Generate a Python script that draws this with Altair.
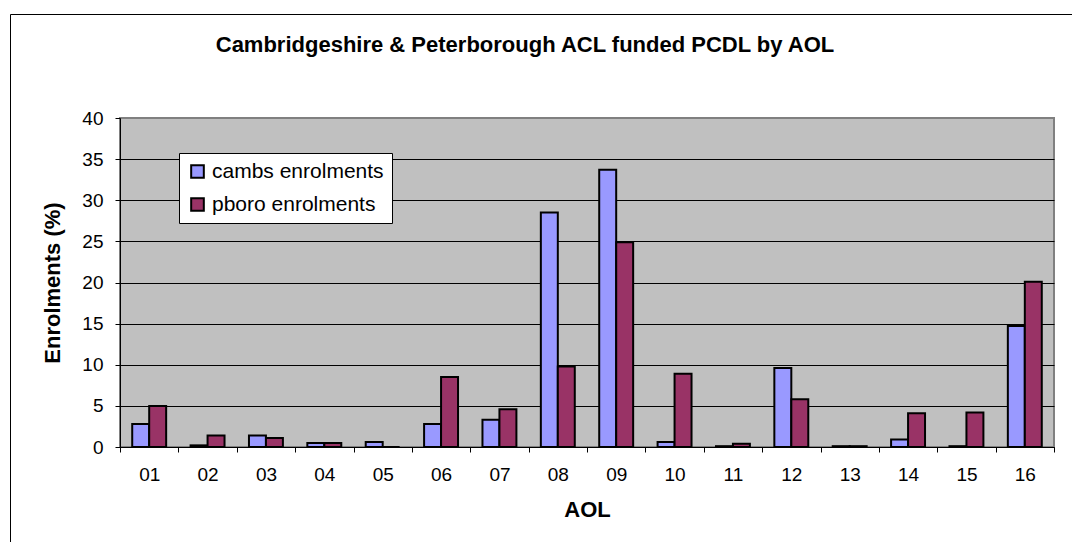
import altair as alt
import pandas as pd

categories = ["01", "02", "03", "04", "05", "06", "07", "08",
              "09", "10", "11", "12", "13", "14", "15", "16"]
cambs = [2.8, 0.2, 1.4, 0.5, 0.6, 2.8, 3.3, 28.5, 33.7, 0.6, 0.1, 9.6, 0.1, 0.9, 0.1, 14.7]
pboro = [5.0, 1.4, 1.1, 0.5, 0.0, 8.5, 4.6, 9.8, 24.9, 8.9, 0.4, 5.8, 0.1, 4.1, 4.2, 20.1]
series = ["cambs enrolments", "pboro enrolments"]
colors = ["#9999FF", "#993366"]
y_ticks = [0, 5, 10, 15, 20, 25, 30, 35, 40]

rows = []
for c, a, b in zip(categories, cambs, pboro):
    rows.append({"AOL": c, "series": series[0], "value": a})
    rows.append({"AOL": c, "series": series[1], "value": b})
df = pd.DataFrame(rows)

FONT = "Liberation Sans"
W, H = 934, 329

bars = alt.Chart(df).mark_bar(stroke="black", strokeWidth=2).encode(
    x=alt.X("AOL:N", sort=categories,
            scale=alt.Scale(paddingInner=0, paddingOuter=0),
            axis=alt.Axis(title="AOL", labelAngle=0, tickBand="extent",
                          tickSize=5, tickColor="black", domainColor="black",
                          labelFontSize=19, labelPadding=13, labelColor="black",
                          titleFontSize=22, titleFontWeight="bold", titlePadding=15,
                          titleColor="black", labelFont=FONT, titleFont=FONT, grid=False)),
    xOffset=alt.XOffset("series:N", sort=series,
                        scale=alt.Scale(paddingInner=0, paddingOuter=0.72)),
    y=alt.Y("value:Q", scale=alt.Scale(domain=[0, 40], nice=False),
            axis=alt.Axis(title="Enrolments (%)", values=y_ticks, tickSize=5,
                          tickColor="black", domainColor="black",
                          labelFontSize=19, labelPadding=12, labelColor="black",
                          titleFontSize=22, titleFontWeight="bold", titlePadding=17,
                          titleColor="black", labelFont=FONT, titleFont=FONT,
                          grid=True,
                          gridColor={"condition": {"test": "datum.value === 40", "value": "#808080"}, "value": "black"},
                          gridWidth=1)),
    color=alt.Color("series:N", sort=series,
                    scale=alt.Scale(domain=series, range=colors),
                    legend=alt.Legend(title=None, orient="none", legendX=59, legendY=35,
                                      fillColor="white", strokeColor="black",
                                      padding=8, rowPadding=11,
                                      symbolType="square", symbolSize=160,
                                      symbolStrokeColor="black", symbolStrokeWidth=2,
                                      labelFontSize=21, labelFont=FONT, labelColor="black",
                                      labelOffset=4, labelLimit=400)),
)

frame_df = pd.DataFrame({"k": [0]})
frame = alt.Chart(frame_df).mark_rect(fill=None, stroke="black", strokeWidth=1).encode(
    x=alt.value(-109.5), x2=alt.value(W + 100),
    y=alt.value(-103.5), y2=alt.value(H + 200),
)

chart = alt.layer(frame, bars).properties(
    width=W, height=H,
    title=alt.TitleParams(
        "Cambridgeshire & Peterborough ACL funded PCDL by AOL",
        fontSize=22, fontWeight="bold", font=FONT, color="black",
        anchor="middle", frame="group", dx=-62, offset=-60, baseline="alphabetic",
    ),
    autosize=alt.AutoSizeParams(type="none"),
    padding={"left": 112, "top": 110, "right": 18, "bottom": 95},
    background="white",
).configure_view(
    fill="#C0C0C0", stroke="#808080", strokeWidth=2,
)

chart.save("out.html", embed_options={"renderer": "svg", "actions": False})
